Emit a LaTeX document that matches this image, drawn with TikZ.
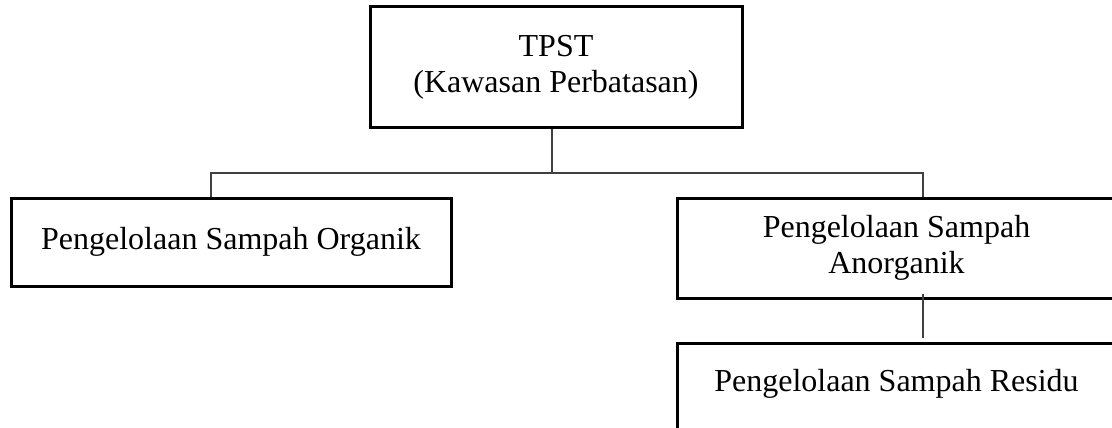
\documentclass[tikz,border=0pt]{standalone}
\usepackage{fontspec}
\setmainfont{Liberation Serif}
\usetikzlibrary{calc}

\begin{document}
\begin{tikzpicture}[x=1pt, y=-1pt,
  box/.style={draw, line width=3pt, align=center, inner sep=0pt,
    font=\fontsize{32}{36}\selectfont},
  link/.style={line width=1.3pt, black!75}]

  % --- 1. frame ---
  \useasboundingbox (0,0) rectangle (1112,428);
  \clip (0,0) rectangle (1112,428);

  % --- 2. top ---
  \node[box, minimum width=372pt, minimum height=120pt] (tpst) at (556,67)
    {TPST\\(Kawasan Perbatasan)};

  % --- 3. second level ---
  \node[box, minimum width=440pt, minimum height=88pt] (organik) at (231,242)
    {Pengelolaan Sampah Organik};
  \node[box, minimum width=439pt, minimum height=100pt] (anorganik) at (896.5,248)
    {Pengelolaan Sampah\\Anorganik};

  % residu (runs off the bottom)
  \node[box, anchor=north, minimum width=439pt, inner ysep=26pt,
    text height=22pt, text depth=30pt] (residu) at (896.5,342)
    {Pengelolaan Sampah Residu};

  % --- 4. connectors ---
  \coordinate (busT) at (552,173);
  \coordinate (busL) at (211,173);
  \coordinate (busR) at (923,173);
  \draw[link] (busT |- tpst.south) -- (busT);
  \draw[link] (busL |- organik.north) -- (busL) -- (busR) -- (busR |- anorganik.north);
  \draw[link] ($(busR |- anorganik.south)+(0,-6)$) -- ($(busR |- residu.north)+(0,-4)$);

\end{tikzpicture}
\end{document}
